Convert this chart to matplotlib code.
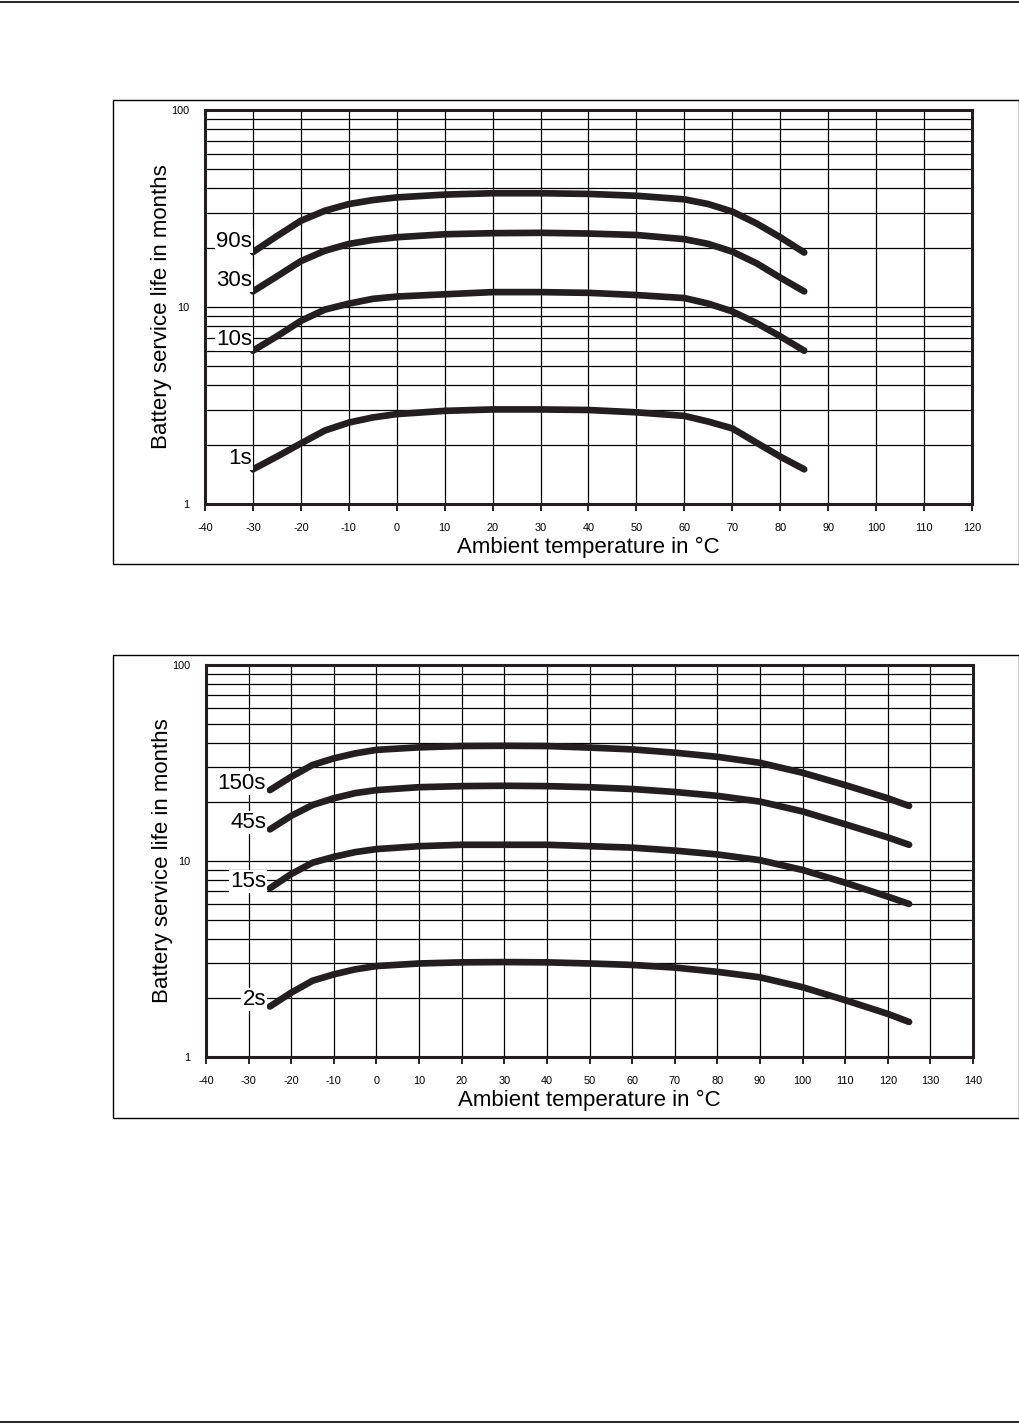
import matplotlib
matplotlib.use("Agg")
import matplotlib.pyplot as plt
from matplotlib.ticker import LogLocator, FixedLocator, FixedFormatter, NullFormatter
from matplotlib.patches import Rectangle
from matplotlib.lines import Line2D

plt.rcParams["font.family"] = ["Liberation Sans", "DejaVu Sans"]
plt.rcParams["axes.unicode_minus"] = False

# upper chart: -30 .. 85 °C
temps_a = [-30, -25, -20, -15, -10, -5, 0, 10, 20, 30, 40, 50, 60, 65, 70, 75, 80, 85]
life_90s = [19.0, 22.9, 27.4, 30.8, 33.3, 34.9, 36.0, 37.2, 37.8, 37.8, 37.5, 36.7, 35.2, 33.3, 30.5, 26.6, 22.6, 18.9]
life_30s = [12.0, 14.3, 17.1, 19.3, 20.9, 21.9, 22.6, 23.4, 23.7, 23.8, 23.6, 23.2, 22.1, 20.9, 19.1, 16.7, 14.1, 12.0]
life_10s = [6.0, 7.1, 8.5, 9.7, 10.4, 11.0, 11.3, 11.6, 11.9, 11.9, 11.8, 11.5, 11.1, 10.4, 9.5, 8.3, 7.1, 6.0]
life_1s = [1.50, 1.74, 2.03, 2.36, 2.59, 2.75, 2.86, 2.97, 3.02, 3.02, 3.00, 2.92, 2.80, 2.62, 2.42, 2.05, 1.74, 1.50]
labels_a = ["90s", "30s", "10s", "1s"]

# lower chart: -25 .. 125 °C
temps_b = [-25, -20, -15, -10, -5, 0, 10, 20, 30, 40, 50, 60, 70, 80, 90, 100, 110, 120, 125]
life_150s = [23.0, 26.9, 30.9, 33.4, 35.4, 36.9, 38.0, 38.6, 38.7, 38.6, 37.9, 37.1, 35.7, 34.0, 31.7, 28.2, 24.4, 20.9, 19.1]
life_45s = [14.5, 17.0, 19.3, 20.9, 22.2, 23.0, 23.8, 24.1, 24.2, 24.1, 23.8, 23.3, 22.5, 21.5, 20.1, 17.9, 15.4, 13.2, 12.1]
life_15s = [7.26, 8.58, 9.8, 10.5, 11.1, 11.5, 11.9, 12.1, 12.1, 12.1, 11.9, 11.7, 11.3, 10.8, 10.1, 9.0, 7.75, 6.58, 6.04]
life_2s = [1.81, 2.13, 2.45, 2.64, 2.80, 2.91, 3.00, 3.04, 3.05, 3.04, 3.00, 2.95, 2.86, 2.72, 2.55, 2.27, 1.95, 1.66, 1.51]
labels_b = ["150s", "45s", "15s", "2s"]

ylabel = "Battery service life in months"
xlabel = "Ambient temperature in \u00b0C"

W, H = 1020, 1424
fig = plt.figure(figsize=(W / 100, H / 100), dpi=100)


def fig_rect(x0, y0, x1, y1):
    # pixel box (top-left origin) -> figure fraction
    return [x0 / W, 1 - y1 / H, (x1 - x0) / W, (y1 - y0) / H]


def draw_chart(axrect, box, temps, series, labels, xmax, lab_off):
    bx = fig_rect(*box)
    fig.add_artist(Rectangle((bx[0], bx[1]), bx[2], bx[3], transform=fig.transFigure,
                             fill=False, lw=1.0, ec="black"))
    ax = fig.add_axes(fig_rect(*axrect))
    ax.set_yscale("log")
    ax.set_xlim(-40, xmax)
    ax.set_ylim(1, 100)

    xt = list(range(-40, xmax + 1, 10))
    ax.xaxis.set_major_locator(FixedLocator(xt))
    ax.xaxis.set_major_formatter(FixedFormatter([str(t) for t in xt]))
    ax.yaxis.set_major_locator(FixedLocator([1, 10, 100]))
    ax.yaxis.set_major_formatter(FixedFormatter(["1", "10", "100"]))
    ax.yaxis.set_minor_locator(LogLocator(base=10, subs=range(2, 10)))
    ax.yaxis.set_minor_formatter(NullFormatter())

    ax.tick_params(axis="x", direction="out", length=5, width=1.2, pad=8.5, labelsize=7.8)
    ax.tick_params(axis="y", which="both", length=0, pad=11, labelsize=7.8)
    ax.grid(True, which="both", color="black", lw=0.9)
    ax.set_axisbelow(True)
    for s in ax.spines.values():
        s.set_linewidth(2.2)
        s.set_color("#231f20")

    for vals, lab in zip(series, labels):
        ax.plot(temps, vals, color="#231f20", lw=4.8, solid_capstyle="round",
                solid_joinstyle="round", zorder=3)
        ax.annotate(lab, xy=(temps[0], vals[0]), xytext=lab_off, textcoords="offset pixels",
                    ha="right", va="center", fontsize=16, zorder=4,
                    bbox=dict(boxstyle="square,pad=0.05", fc="white", ec="none"))

    ax.text(-0.057, 0.5, ylabel, rotation=90, ha="center", va="center",
            fontsize=16, transform=ax.transAxes)
    ax.text(0.5, -0.11, xlabel, ha="center", va="center", fontsize=16,
            transform=ax.transAxes)
    return ax


draw_chart((205, 110, 972, 504), (113, 100, 1019, 564), temps_a,
           [life_90s, life_30s, life_10s, life_1s], labels_a, 120, (-1, 11))
draw_chart((206, 665, 973, 1057), (113, 655, 1019, 1118), temps_b,
           [life_150s, life_45s, life_15s, life_2s], labels_b, 140, (-4, 7))

# page rules
fig.add_artist(Line2D([0, 1], [1 - 1.5 / H, 1 - 1.5 / H], transform=fig.transFigure, color="black", lw=1.2))
fig.add_artist(Line2D([0, 1], [1 - 1421.5 / H, 1 - 1421.5 / H], transform=fig.transFigure, color="black", lw=1.2))

fig.savefig("out.png", dpi=100)
